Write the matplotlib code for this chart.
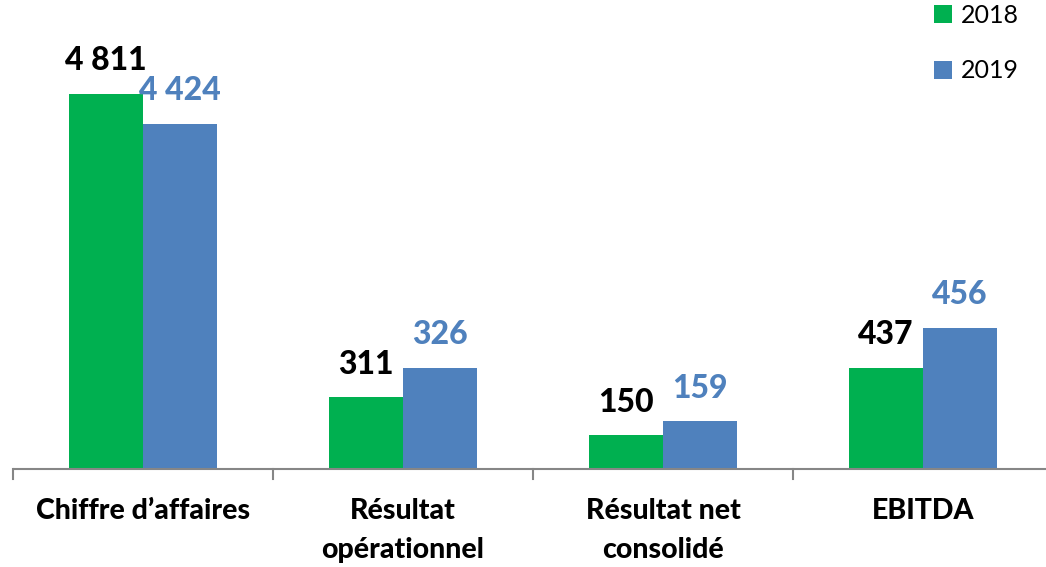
import matplotlib
matplotlib.use("Agg")
import matplotlib.pyplot as plt
from matplotlib.patches import Patch
import numpy as np

categories = ["Chiffre d\u2019affaires", "R\u00e9sultat\nop\u00e9rationnel",
              "R\u00e9sultat net\nconsolid\u00e9", "EBITDA"]
series_names = ["2018", "2019"]
labels_2018 = ["4 811", "311", "150", "437"]
labels_2019 = ["4 424", "326", "159", "456"]
# bar heights (the original chart is not to scale)
heights_2018 = [375, 72, 34, 101]
heights_2019 = [345, 101, 48, 141]

GREEN = "#00B050"
BLUE = "#4F81BD"
AXIS = "#868686"
FONT = ["Lato", "DejaVu Sans"]
WEIGHT = 900

W, H, DPI = 1046, 567, 100
fig = plt.figure(figsize=(W / DPI, H / DPI), dpi=DPI)
base_px = 469
left_px, right_px = 13, 1053
top_units = 420
ax = fig.add_axes([left_px / W, (H - base_px) / H, (right_px - left_px) / W, top_units / H])
ax.set_xlim(-0.5, len(categories) - 0.5)
ax.set_ylim(0, top_units)
ax.axis("off")

x = np.arange(len(categories))
bw = 74 / 260
b1 = ax.bar(x - bw / 2, heights_2018, width=bw, color=GREEN, label=series_names[0])
b2 = ax.bar(x + bw / 2, heights_2019, width=bw, color=BLUE, label=series_names[1])

off_pt = 33 * 72 / DPI
for xi, h, lab in zip(x - bw / 2, heights_2018, labels_2018):
    ax.annotate(lab, (xi, h), xytext=(0, off_pt), textcoords="offset points",
                ha="center", va="center", fontsize=23, fontweight=WEIGHT,
                color="black", family=FONT)
for xi, h, lab in zip(x + bw / 2, heights_2019, labels_2019):
    ax.annotate(lab, (xi, h), xytext=(0, off_pt), textcoords="offset points",
                ha="center", va="center", fontsize=23, fontweight=WEIGHT,
                color=BLUE, family=FONT)

# axis line and ticks
ax.plot([-0.5, len(categories) - 0.5], [0, 0], color=AXIS, lw=1.5,
        clip_on=False, solid_capstyle="butt")
for b in np.arange(-0.5, len(categories), 1.0):
    ax.plot([b, b], [0, -10], color=AXIS, lw=1.5, clip_on=False)

# category labels
for xi, cat in zip(x, categories):
    ax.annotate(cat, (xi, 0), xytext=(0, -29 * 72 / DPI), textcoords="offset points",
                ha="center", va="top", fontsize=20.5, fontweight=WEIGHT,
                color="black", family=FONT, linespacing=1.6)

handles = [Patch(facecolor=GREEN), Patch(facecolor=BLUE)]
fig.legend(handles, series_names, loc="upper left",
           bbox_to_anchor=(934 / W, 1 - 4 / H), frameon=False,
           prop={"family": FONT, "size": 18},
           handlelength=0.72, handleheight=0.72, handletextpad=0.35,
           labelspacing=1.3, borderpad=0, borderaxespad=0)

fig.savefig("out.png", dpi=DPI)
